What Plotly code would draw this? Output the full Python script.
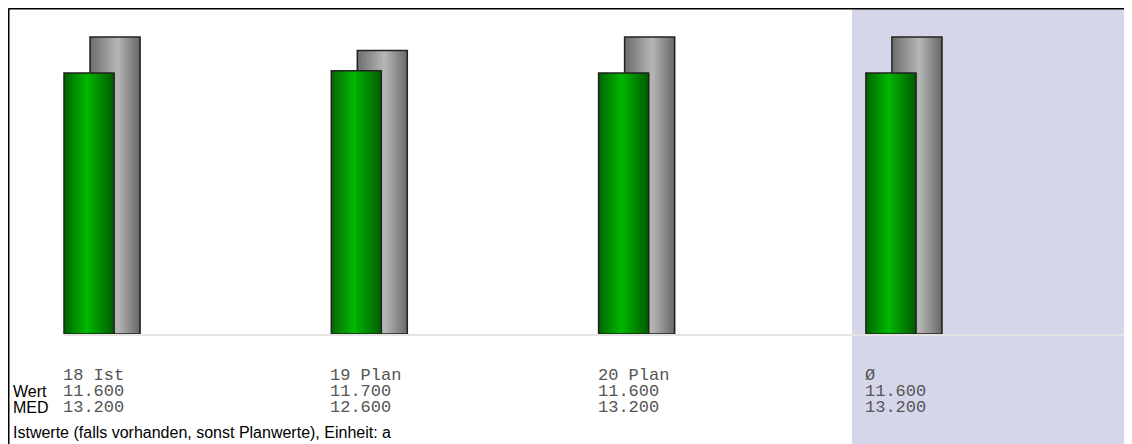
import plotly.graph_objects as go

# Werte aus dem Bild
kategorien = ["18 Ist", "19 Plan", "20 Plan", "Ø"]
wert = [11.6, 11.7, 11.6, 11.6]
med = [13.2, 12.6, 13.2, 13.2]
zeilen = ["Wert", "MED"]
fusszeile = "Istwerte (falls vorhanden, sonst Planwerte), Einheit: a"

OFF = 8  # Rand der Seite (body margin)
W, H = 1132 - OFF, 444 - OFF
L, T = 10 - OFF, 10 - OFF
BASIS = 334 - OFF        # Nulllinie in px der Figur
PW, PH = W - L, BASIS - T
B = H - BASIS
UNIT = 267.3  # px pro Kategorie
X0 = 102 - OFF
xr = [-(X0 - L) / UNIT, (W - X0) / UNIT]
yr = [0, PH / 22.5]

bw = 50 / UNIT
off_gruen = -38 / UNIT
off_grau = -12 / UNIT

# Seitenpixel -> paper
def py(pix):
    return (BASIS - (pix - OFF)) / PH

def px(pix):
    return (pix - OFF - L) / PW

def lerp(c1, c2, t):
    return "rgb(%d,%d,%d)" % tuple(round(a + (b - a) * t) for a, b in zip(c1, c2))

def zylinder(fig, werte, offset, dunkel_l, hell, dunkel_r, peak, n=25):
    # Verlauf als schmale Streifen
    step = bw / n
    xs = list(range(len(werte)))
    for i in range(n):
        t = (i + 0.5) / n
        if t < peak:
            c = lerp(dunkel_l, hell, t / peak)
        else:
            c = lerp(hell, dunkel_r, (t - peak) / (1 - peak))
        fig.add_trace(go.Bar(x=xs, y=werte, width=step * 1.3, offset=offset + i * step,
                             marker=dict(color=c, line=dict(width=0)),
                             hoverinfo="skip", showlegend=False))
    fig.add_trace(go.Bar(x=xs, y=werte, width=bw, offset=offset,
                         marker=dict(color="rgba(0,0,0,0)", line=dict(color="#222", width=1.5)),
                         showlegend=False))

fig = go.Figure()
zylinder(fig, med, off_grau, (108, 108, 108), (182, 182, 182), (104, 104, 104), 0.55)
zylinder(fig, wert, off_gruen, (0, 100, 0), (0, 184, 0), (0, 92, 0), 0.45)

shapes = [
    dict(type="rect", xref="paper", yref="paper", x0=px(852), x1=1.0,
         y0=py(444), y1=py(9), fillcolor="#d6d6eb", line=dict(width=0), layer="below"),
    dict(type="line", xref="paper", yref="paper", x0=px(64), x1=1.0, y0=py(335), y1=py(335),
         line=dict(color="#e4e4e4", width=2), layer="below"),
    dict(type="line", xref="paper", yref="paper", x0=px(8.5), x1=1.0, y0=py(8.5), y1=py(8.5),
         line=dict(color="#000", width=2)),
    dict(type="line", xref="paper", yref="paper", x0=px(8.5), x1=px(8.5), y0=py(8.5), y1=py(444),
         line=dict(color="#000", width=2)),
]

mono = dict(family="Liberation Mono, Courier New, monospace", size=17, color="#555")
sans = dict(family="Liberation Sans, Arial, sans-serif", size=16, color="#000")

ann = []
for i, k in enumerate(kategorien):
    for zeile, txt in zip([376, 392, 408], [k, f"{wert[i]:.3f}", f"{med[i]:.3f}"]):
        ann.append(dict(x=i + off_gruen, y=py(zeile), xref="x", yref="paper", text=txt,
                        showarrow=False, xanchor="left", yanchor="middle", xshift=-3, font=mono))
for zeile, txt in zip([392, 408], zeilen):
    ann.append(dict(x=px(11), y=py(zeile), xref="paper", yref="paper", text=txt,
                    showarrow=False, xanchor="left", yanchor="middle", font=sans))
ann.append(dict(x=px(11), y=py(432), xref="paper", yref="paper", text=fusszeile,
                showarrow=False, xanchor="left", yanchor="middle", font=sans))

fig.update_layout(
    width=W, height=H, barmode="overlay",
    margin=dict(l=L, r=0, t=T, b=B, pad=0),
    paper_bgcolor="white", plot_bgcolor="rgba(0,0,0,0)",
    xaxis=dict(range=xr, visible=False, fixedrange=True),
    yaxis=dict(range=yr, visible=False, fixedrange=True),
    shapes=shapes, annotations=ann, showlegend=False,
)
fig.write_html("out.html", config={"displayModeBar": False})
